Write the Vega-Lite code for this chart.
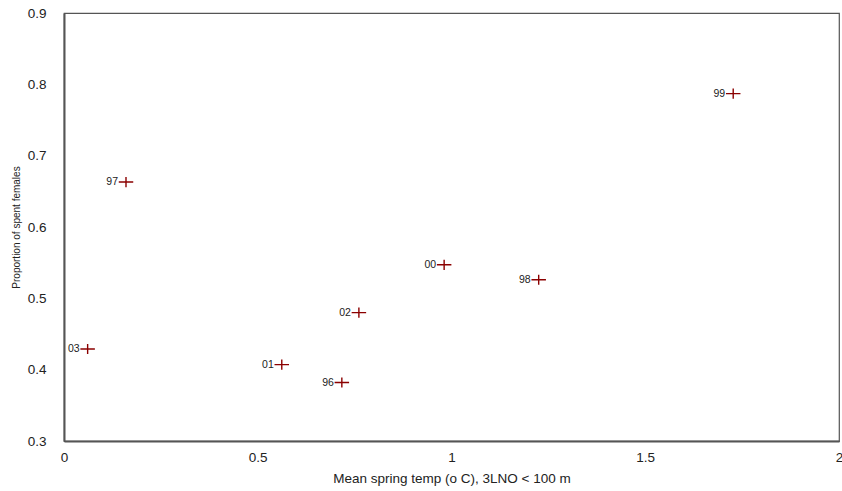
{
  "$schema": "https://vega.github.io/schema/vega-lite/v6.json",
  "width": 775,
  "height": 428,
  "autosize": {"type": "none"},
  "padding": {"left": 64, "top": 13, "right": 3, "bottom": 50},
  "background": "white",
  "config": {
    "font": "Liberation Sans",
    "view": {"stroke": "#555555", "strokeWidth": 1.2},
    "axis": {"grid": false, "ticks": false, "labelFlush": false, "domainColor": "#555555", "domainWidth": 2, "labelFont": "Liberation Sans", "titleFont": "Liberation Sans", "labelColor": "#222222", "titleColor": "#222222", "titleFontWeight": "normal"}
  },
  "data": {
    "values": [
      {"year": "96", "temp": 0.717, "prop": 0.382},
      {"year": "97", "temp": 0.160, "prop": 0.663},
      {"year": "98", "temp": 1.225, "prop": 0.526},
      {"year": "99", "temp": 1.727, "prop": 0.787},
      {"year": "00", "temp": 0.981, "prop": 0.547},
      {"year": "01", "temp": 0.562, "prop": 0.407},
      {"year": "02", "temp": 0.761, "prop": 0.480},
      {"year": "03", "temp": 0.061, "prop": 0.429}
    ]
  },
  "encoding": {
    "x": {"field": "temp", "type": "quantitative", "scale": {"domain": [0, 2], "nice": false, "zero": false},
      "axis": {"values": [0, 0.5, 1, 1.5, 2], "format": "~g", "labelFontSize": 13.5, "labelPadding": 9, "title": "Mean spring temp (o C), 3LNO < 100 m", "titleFontSize": 13.5, "titlePadding": 8}},
    "y": {"field": "prop", "type": "quantitative", "scale": {"domain": [0.3, 0.9], "nice": false, "zero": false},
      "axis": {"values": [0.3, 0.4, 0.5, 0.6, 0.7, 0.8, 0.9], "format": ".1f", "labelFontSize": 13.5, "labelPadding": 18, "title": "Proportion of spent females", "titleFontSize": 10, "titlePadding": 6}}
  },
  "layer": [
    {"mark": {"type": "point", "shape": "M-1,0H1M0,-0.7V0.7", "size": 210, "filled": false, "stroke": "#8b0000", "strokeWidth": 1.4, "opacity": 1}},
    {"mark": {"type": "text", "align": "right", "baseline": "middle", "dx": -8, "fontSize": 10.5, "color": "#222222"}, "encoding": {"text": {"field": "year"}}}
  ]
}
